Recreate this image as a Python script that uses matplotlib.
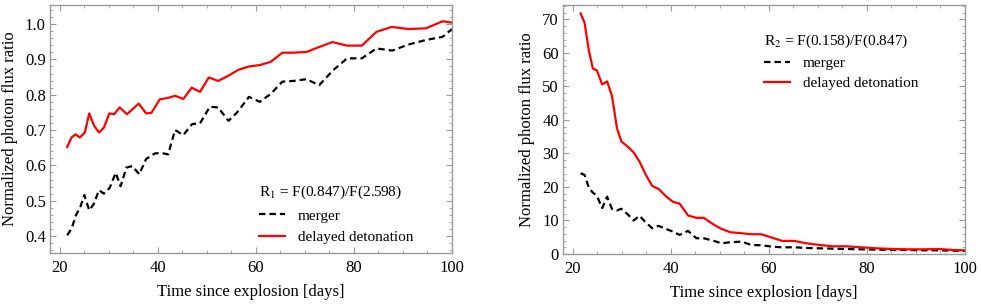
import matplotlib
matplotlib.use("Agg")
import matplotlib.pyplot as plt
from matplotlib.ticker import MultipleLocator

plt.rcParams['font.family'] = ['Liberation Serif', 'DejaVu Serif']
plt.rcParams['mathtext.fontset'] = 'stix'

# ---------------- data: left panel (R1) ----------------
t_merger_1 = [21.5, 22.4, 23.3, 24.2, 25.0, 26.0, 26.9, 28.0, 29.0, 30.2, 31.4, 32.4,
              33.6, 34.8, 36.2, 37.6, 39.4, 40.8, 42.1, 43.5, 45.2, 47.0, 48.6, 50.6,
              52.3, 54.4, 56.1, 58.6, 60.8, 63.0, 65.4, 67.6, 70.3, 72.9, 75.8, 78.6,
              81.6, 84.6, 87.8, 91.1, 94.7, 98.1, 100.0]
r1_merger = [0.402, 0.421, 0.459, 0.483, 0.516, 0.473, 0.490, 0.530, 0.520, 0.537, 0.579,
             0.541, 0.594, 0.598, 0.575, 0.618, 0.634, 0.635, 0.631, 0.700, 0.686, 0.717,
             0.719, 0.766, 0.764, 0.726, 0.749, 0.794, 0.780, 0.802, 0.837, 0.839, 0.844,
             0.827, 0.870, 0.903, 0.903, 0.931, 0.925, 0.942, 0.955, 0.964, 0.986]

t_dd_1 = [21.5, 22.4, 23.2, 24.1, 25.1, 26.0, 27.0, 28.0, 29.0, 30.1, 31.1, 32.2, 33.7,
          36.1, 37.6, 38.7, 40.4, 42.1, 43.5, 45.2, 46.9, 48.6, 50.4, 52.3, 54.4, 56.5,
          58.6, 60.8, 63.0, 65.4, 67.6, 70.3, 72.7, 75.6, 78.6, 81.6, 84.6, 87.7, 91.1,
          94.7, 98.1, 100.0]
r1_dd = [0.652, 0.679, 0.688, 0.679, 0.693, 0.747, 0.712, 0.693, 0.707, 0.747, 0.745,
         0.764, 0.745, 0.775, 0.747, 0.749, 0.787, 0.791, 0.797, 0.788, 0.820, 0.808,
         0.849, 0.839, 0.854, 0.871, 0.880, 0.884, 0.893, 0.919, 0.919, 0.921, 0.934,
         0.949, 0.939, 0.939, 0.978, 0.992, 0.986, 0.988, 1.008, 1.004]

# ---------------- data: right panel (R2) ----------------
t_2 = [21.6, 22.4, 23.3, 24.1, 24.9, 26.0, 27.0, 28.0, 29.0, 29.9, 31.3, 32.4, 33.6,
       34.9, 36.2, 37.5, 39.1, 40.4, 41.8, 43.5, 45.2, 46.7, 48.6, 50.3, 52.1, 54.4,
       56.4, 58.4, 60.6, 62.7, 65.2, 67.6, 70.3, 73.0, 75.7, 78.8, 81.9, 85.2, 88.3,
       91.7, 94.7, 97.5, 100.0]
r2_merger = [24.1, 23.6, 19.7, 18.3, 17.4, 13.7, 17.1, 13.4, 13.0, 13.5, 11.7, 10.0, 11.4,
             9.4, 7.7, 8.4, 7.4, 6.7, 5.7, 6.9, 4.7, 4.7, 4.0, 3.2, 3.5, 3.7, 2.7, 2.6,
             2.2, 2.0, 2.0, 1.8, 1.7, 1.6, 1.5, 1.4, 1.3, 1.2, 1.2, 1.1, 1.1, 1.0, 0.9]
r2_dd = [71.8, 69.0, 60.5, 55.3, 54.8, 50.6, 51.5, 47.1, 37.6, 33.6, 31.9, 30.3, 27.6,
         23.6, 20.3, 19.4, 17.1, 15.6, 15.0, 11.5, 10.8, 10.8, 8.9, 7.5, 6.5, 6.2, 5.9,
         5.9, 4.9, 3.9, 3.9, 3.2, 2.7, 2.3, 2.3, 2.0, 1.7, 1.5, 1.4, 1.4, 1.5, 1.2, 1.1]

label_merger = "merger"
label_dd = "delayed detonation"
title_1 = r"R$_1$ = F(0.847)/F(2.598)"
title_2 = r"R$_2$ = F(0.158)/F(0.847)"
xlabel = "Time since explosion [days]"
ylabel = "Normalized photon flux ratio"

W, H = 981, 305
fig = plt.figure(figsize=(W / 100, H / 100), dpi=100)

frame_col = '#9a9a9a'
fs = 12
lfs = 11


def style(ax, ymaj, ymin):
    for s in ax.spines.values():
        s.set_color(frame_col)
        s.set_linewidth(1.0)
    ax.xaxis.set_major_locator(MultipleLocator(20))
    ax.xaxis.set_minor_locator(MultipleLocator(5))
    ax.yaxis.set_major_locator(MultipleLocator(ymaj))
    ax.yaxis.set_minor_locator(MultipleLocator(ymin))
    ax.tick_params(which='both', direction='in', top=True, right=True,
                   color=frame_col, labelsize=fs, labelcolor='black')
    ax.tick_params(which='major', length=4.5, width=0.8)
    ax.tick_params(which='minor', length=2.5, width=0.6)
    ax.tick_params(axis='x', pad=5)
    ax.tick_params(axis='y', pad=3)
    ax.set_xlabel(xlabel, fontsize=fs, labelpad=6)
    ax.set_ylabel(ylabel, fontsize=fs, labelpad=5)


def add_legend(ax, title, anchor, spacing):
    leg = ax.legend(title=title, loc='upper left', bbox_to_anchor=anchor,
                    frameon=False, fontsize=lfs, title_fontsize=lfs, handlelength=1.7,
                    handletextpad=0.85, labelspacing=spacing, borderaxespad=0,
                    borderpad=0)
    leg._legend_box.align = 'left'
    return leg


dash = (0, (2.9, 1.8))

ax1 = fig.add_axes([50 / W, 1 - 253 / H, 402 / W, 248 / H])
ax1.plot(t_merger_1, r1_merger, color='black', lw=1.6, linestyle=dash, label=label_merger)
ax1.plot(t_dd_1, r1_dd, color='#ff0000', lw=1.6, label=label_dd)
ax1.set_xlim(18, 100)
ax1.set_ylim(0.352, 1.054)
style(ax1, 0.1, 0.02)
ax1.set_yticks([0.4, 0.5, 0.6, 0.7, 0.8, 0.9, 1.0])
ax1.set_yticklabels(["0.4", "0.5", "0.6", "0.7", "0.8", "0.9", "1.0"])
add_legend(ax1, title_1, (0.52, 0.278), 0.5)

ax2 = fig.add_axes([563 / W, 1 - 254 / H, 402 / W, 249 / H])
ax2.plot(t_2, r2_merger, color='black', lw=1.6, linestyle=dash, label=label_merger)
ax2.plot(t_2, r2_dd, color='#ff0000', lw=1.6, label=label_dd)
ax2.set_xlim(18, 100)
ax2.set_ylim(0, 74.3)
style(ax2, 10, 2)
add_legend(ax2, title_2, (0.5, 0.888), 0.42)

fig.savefig("out.png", dpi=100)
